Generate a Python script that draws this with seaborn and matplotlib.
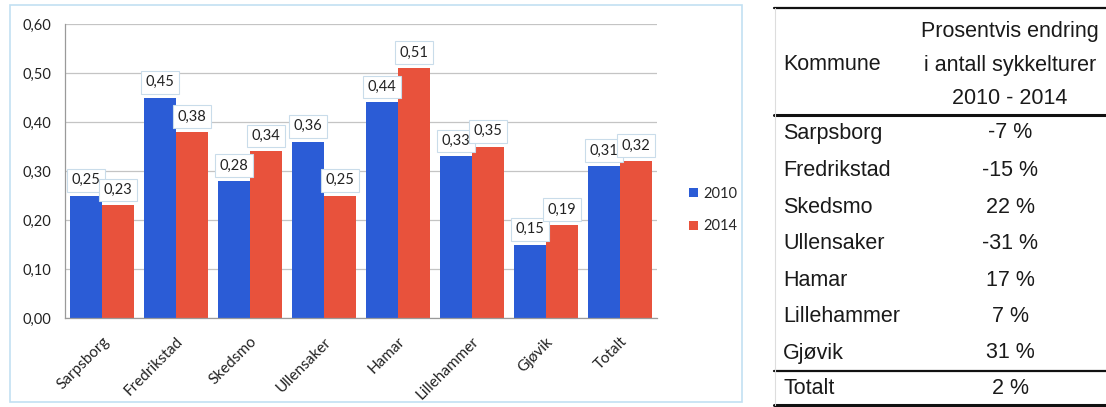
import matplotlib
matplotlib.use("Agg")
import matplotlib.pyplot as plt
from matplotlib.lines import Line2D
from matplotlib.patches import Rectangle
import seaborn as sns
import pandas as pd

# Cycle trips per inhabitant, by municipality
kommuner = ["Sarpsborg", "Fredrikstad", "Skedsmo", "Ullensaker", "Hamar",
            "Lillehammer", "Gjøvik", "Totalt"]
verdier_2010 = [0.25, 0.45, 0.28, 0.36, 0.44, 0.33, 0.15, 0.31]
verdier_2014 = [0.23, 0.38, 0.34, 0.25, 0.51, 0.35, 0.19, 0.32]
aar = ["2010", "2014"]

# Table: percentage change 2010 - 2014
tabell_kommuner = ["Sarpsborg", "Fredrikstad", "Skedsmo", "Ullensaker", "Hamar",
                   "Lillehammer", "Gjøvik"]
tabell_endring = ["-7 %", "-15 %", "22 %", "-31 %", "17 %", "7 %", "31 %"]
totalt_endring = "2 %"

y_ticks = [0.0, 0.1, 0.2, 0.3, 0.4, 0.5, 0.6]

df = pd.DataFrame({
    "Kommune": kommuner * 2,
    "År": [aar[0]] * len(kommuner) + [aar[1]] * len(kommuner),
    "Verdi": verdier_2010 + verdier_2014,
})

sns.set_theme(style="white")
plt.rcParams["font.family"] = ["Lato", "DejaVu Sans"]

W, H = 1106, 407
fig = plt.figure(figsize=(W / 100, H / 100), dpi=100)
fig.patch.set_facecolor("white")

def fx(px):
    return px / W

def fy(py):
    return 1 - py / H

ax = fig.add_axes([fx(65), fy(318), fx(657) - fx(65), fy(24) - fy(318)])

palette = {"2010": "#2b5cd6", "2014": "#e8523c"}
sns.barplot(data=df, x="Kommune", y="Verdi", hue="År", palette=palette,
            width=0.86, ax=ax, saturation=1, edgecolor="none")

ax.set_ylim(0, 0.6)
ax.set_xlim(-0.5, len(kommuner) - 0.5)
ax.set_yticks(y_ticks)
ax.set_yticklabels([f"{t:.2f}".replace(".", ",") for t in y_ticks],
                   fontsize=10.5, color="#222222")
ax.set_xticks(range(len(kommuner)))
ax.set_xticklabels(kommuner, rotation=45, ha="right", rotation_mode="anchor",
                   fontsize=11, color="#222222")
ax.tick_params(axis="x", length=0, pad=12)
ax.tick_params(axis="y", length=0, pad=10)
ax.set_xlabel("")
ax.set_ylabel("")
ax.yaxis.grid(True, color="#c4c4c4", lw=0.9)
ax.set_axisbelow(True)
for side in ["top", "right"]:
    ax.spines[side].set_visible(False)
for side in ["left", "bottom"]:
    ax.spines[side].set_color("#9a9a9a")
    ax.spines[side].set_linewidth(0.9)

# Value labels above each bar
for cont, vals in zip(ax.containers, [verdier_2010, verdier_2014]):
    ax.bar_label(cont, labels=[f"{v:.2f}".replace(".", ",") for v in vals],
                 padding=6, fontsize=10.5, color="#222222",
                 bbox=dict(boxstyle="square,pad=0.3", fc="white",
                           ec="#c9dcea", lw=0.8))

# Legend to the right of the bars
handles, labels = ax.get_legend_handles_labels()
ax.legend(handles, labels, loc="center left", frameon=False,
          bbox_to_anchor=(fx(676), fy(210)), bbox_transform=fig.transFigure,
          handlelength=0.6, handleheight=0.6, handletextpad=0.4,
          labelspacing=1.3, fontsize=10.5)

# Chart frame
fig.add_artist(Rectangle((fx(10), fy(402)), fx(742) - fx(10), fy(5) - fy(402),
                         transform=fig.transFigure, fill=False,
                         ec="#c2e0f2", lw=1.2))

# Table on the right
tfont = dict(family=["Liberation Sans", "DejaVu Sans"], fontsize=15.5,
             color="#1a1a1a")
x_left, x_col = 783, 1010

def hline(py, lw):
    fig.add_artist(Line2D([fx(774), fx(1106)], [fy(py), fy(py)],
                          transform=fig.transFigure, color="#111111", lw=lw))

hline(8, 1.6)
hline(115, 2.2)
hline(371, 1.6)
hline(405, 2.2)
fig.add_artist(Line2D([fx(775), fx(775)], [fy(8), fy(405)],
                      transform=fig.transFigure, color="#dddddd", lw=0.8))

fig.text(fx(x_left), fy(65), "Kommune", ha="left", va="center", **tfont)
for i, line in enumerate(["Prosentvis endring", "i antall sykkelturer",
                          "2010 - 2014"]):
    fig.text(fx(x_col), fy(32 + i * 33), line, ha="center", va="center", **tfont)

row_y = [133, 170, 207, 244, 281, 317, 353]
for ry, navn, endr in zip(row_y, tabell_kommuner, tabell_endring):
    fig.text(fx(x_left), fy(ry), navn, ha="left", va="center", **tfont)
    fig.text(fx(x_col), fy(ry), endr, ha="center", va="center", **tfont)
fig.text(fx(x_left), fy(389), "Totalt", ha="left", va="center", **tfont)
fig.text(fx(x_col), fy(389), totalt_endring, ha="center", va="center", **tfont)

fig.savefig("out.png", dpi=100, facecolor="white")
